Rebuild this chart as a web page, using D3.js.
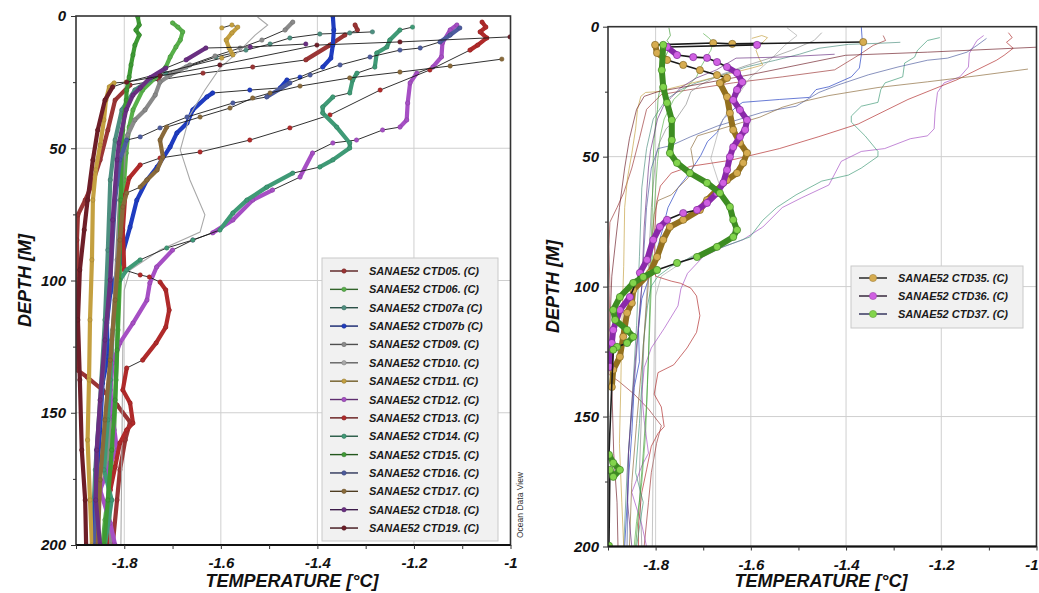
<!DOCTYPE html>
<html>
<head>
<meta charset="utf-8">
<script src="https://cdn.jsdelivr.net/npm/d3@7"></script>
<style>
  body { margin: 0; background: #fff; }
  svg text { font-family: "Liberation Sans", Arial, Helvetica, sans-serif; }
</style>
</head>
<body>
<svg id="chart" width="1039" height="593"></svg>
<script>
// ---- Station names and colours -------------------------------------------
const leftStations = ["CTD05.", "CTD06.", "CTD07a", "CTD07b", "CTD09.", "CTD10.", "CTD11.",
  "CTD12.", "CTD13.", "CTD14.", "CTD15.", "CTD16.", "CTD17.", "CTD18.", "CTD19."];
const leftColors = ["#9b3535", "#58b04a", "#4d8f80", "#1f3cc0", "#8a8a8a", "#a9a9a9", "#c4a040",
  "#a64fc4", "#b02a2a", "#3f9a76", "#3e9a34", "#4d5c9e", "#8a6a3a", "#6a2f82", "#6e1e28"];
const thinStations = ["CTD10."];

const rightStations = ["CTD35.", "CTD36.", "CTD37."];
const rightFill = ["#d6ac50", "#d060e2", "#82d44c"];
const rightStroke = ["#93701e", "#8a28aa", "#3d8d22"];

// ---- Profiles: [temperature °C, depth m] ---------------------------------
const ctd05 = [[-1.322,3.4],[-1.317,5.3],[-1.343,7.2],[-1.374,11.0],[-1.424,16.6],[-1.534,19.3],
  [-1.637,21.6],[-1.728,24.2],[-1.788,26.1],[-1.819,31.8],[-1.834,43.1],[-1.850,54.4],[-1.867,63.9],
  [-1.881,69.6],[-1.896,75.2],[-1.898,84.7],[-1.896,99.8],[-1.898,118.7],[-1.898,133.8],[-1.877,136.5],
  [-1.845,141.4],[-1.815,147.1],[-1.788,153.5],[-1.798,160.3],[-1.809,171.6],[-1.815,183.0],[-1.824,200]];
const ctd06 = [[-1.700,2.6],[-1.689,4.2],[-1.679,6.0],[-1.684,9.1],[-1.693,11.7],[-1.705,15.5],
  [-1.714,19.3],[-1.734,23.1],[-1.762,28.0],[-1.782,35.5],[-1.790,42.0],[-1.796,51.8],[-1.800,62.0],
  [-1.805,77.1],[-1.809,99.8],[-1.813,118.7],[-1.817,137.6],[-1.821,156.5],[-1.829,175.4],[-1.840,190.5],[-1.845,200]];
const ctd07a = [[-1.286,6.0],[-1.333,6.4],[-1.395,6.8],[-1.457,8.3],[-1.498,10.6],[-1.548,12.9],
  [-1.610,15.5],[-1.672,19.3],[-1.714,21.6],[-1.747,24.2],[-1.778,28.0],[-1.805,35.5],[-1.819,46.9],
  [-1.829,62.0],[-1.834,88.5],[-1.840,114.9],[-1.850,145.2],[-1.860,171.6],[-1.867,200]];
const ctd07b = [[-1.368,0],[-1.366,5.3],[-1.368,11.0],[-1.372,15.9],[-1.389,19.3],[-1.436,23.1],
  [-1.463,24.2],[-1.477,27.2],[-1.540,28.0],[-1.617,29.1],[-1.629,30.6],[-1.658,35.5],[-1.670,40.5],
  [-1.691,44.2],[-1.705,49.5],[-1.732,57.1],[-1.753,62.0],[-1.774,69.6],[-1.788,79.8],[-1.803,89.6],
  [-1.815,97.2],[-1.829,104.7],[-1.836,116.1],[-1.834,128.9],[-1.845,138.8],[-1.850,156.5],[-1.857,174.3],[-1.865,200]];
const ctd09 = [[-1.451,2.3],[-1.467,5.3],[-1.515,9.1],[-1.560,12.1],[-1.612,15.1],[-1.664,18.5],
  [-1.705,22.3],[-1.726,25.0],[-1.736,29.9],[-1.757,35.5],[-1.778,39.3],[-1.793,45.0],[-1.800,50.7],
  [-1.809,69.6],[-1.815,92.2],[-1.824,118.7],[-1.829,145.2],[-1.834,171.6],[-1.829,200]];
const ctd10 = [[-1.524,0.4],[-1.503,3.4],[-1.529,7.2],[-1.560,12.9],[-1.602,19.7],[-1.633,28.0],
  [-1.664,37.4],[-1.684,50.7],[-1.664,62.0],[-1.633,75.2],[-1.643,81.7],[-1.726,88.5],[-1.788,96.0],
  [-1.800,103.6],[-1.803,126.3],[-1.805,164.1],[-1.807,200]];
const ctd11 = [[-1.598,4.5],[-1.577,3.4],[-1.565,4.2],[-1.577,6.4],[-1.589,9.1],[-1.583,12.1],
  [-1.575,14.7],[-1.598,15.9],[-1.796,25.0],[-1.821,25.3],[-1.831,26.8],[-1.838,31.8],[-1.842,39.3],
  [-1.850,48.8],[-1.859,58.2],[-1.865,69.6],[-1.867,92.2],[-1.871,114.9],[-1.873,137.6],[-1.876,160.3],
  [-1.871,183.0],[-1.867,200]];
const ctd12 = [[-1.111,3.4],[-1.125,5.3],[-1.141,10.2],[-1.143,15.5],[-1.161,19.3],[-1.194,21.6],
  [-1.208,25.3],[-1.213,32.9],[-1.215,39.3],[-1.229,42.0],[-1.265,43.1],[-1.319,46.9],[-1.368,48.0],
  [-1.410,51.8],[-1.436,60.9],[-1.493,65.8],[-1.534,69.6],[-1.575,77.1],[-1.617,82.0],[-1.658,84.7],
  [-1.700,88.5],[-1.733,94.9],[-1.747,100.9],[-1.753,107.4],[-1.782,116.1],[-1.809,123.6],[-1.824,131.2],
  [-1.829,141.4],[-1.824,151.6],[-1.815,164.1],[-1.829,169.0],[-1.850,179.2],[-1.829,191.7],[-1.819,200]];
const ctd13 = [[-1.059,2.3],[-1.051,4.2],[-1.063,6.0],[-1.049,8.3],[-1.068,11.0],[-1.084,12.9],
  [-1.167,20.4],[-1.270,28.0],[-1.374,37.4],[-1.457,42.3],[-1.540,46.9],[-1.643,51.4],[-1.726,53.7],
  [-1.767,56.3],[-1.790,61.3],[-1.798,67.7],[-1.803,80.9],[-1.800,96.0],[-1.767,97.9],[-1.748,98.7],
  [-1.726,100.6],[-1.714,103.6],[-1.707,111.2],[-1.714,117.6],[-1.734,123.6],[-1.762,130.1],[-1.795,133.1],
  [-1.803,141.4],[-1.788,146.3],[-1.782,153.9],[-1.795,156.5],[-1.809,161.4],[-1.819,170.5],[-1.829,179.2],
  [-1.836,191.7],[-1.836,200]];
const ctd14 = [[-1.203,4.2],[-1.229,5.3],[-1.250,9.1],[-1.256,11.7],[-1.277,14.0],[-1.281,19.3],
  [-1.318,21.6],[-1.327,24.2],[-1.333,29.1],[-1.368,30.6],[-1.389,34.4],[-1.389,36.7],[-1.360,42.0],
  [-1.333,48.0],[-1.333,49.9],[-1.368,54.4],[-1.395,57.1],[-1.451,59.4],[-1.505,64.7],[-1.546,69.6],
  [-1.575,74.5],[-1.602,80.9],[-1.658,84.7],[-1.712,87.7],[-1.767,92.2],[-1.795,96.0],[-1.809,99.8],
  [-1.817,107.4],[-1.826,122.5],[-1.829,137.6],[-1.834,152.7],[-1.842,171.6],[-1.826,183.0],[-1.840,200]];
const ctd15 = [[-1.772,0.4],[-1.769,3.4],[-1.776,5.3],[-1.769,7.2],[-1.778,11.0],[-1.782,14.7],
  [-1.786,18.5],[-1.790,23.1],[-1.795,28.0],[-1.796,31.8],[-1.800,37.4],[-1.803,43.1],[-1.805,50.7],
  [-1.807,69.6],[-1.811,99.8],[-1.815,126.3],[-1.819,145.2],[-1.826,164.1],[-1.834,183.0],[-1.842,200]];
const ctd16 = [[-1.105,4.5],[-1.125,7.2],[-1.146,9.8],[-1.187,12.1],[-1.229,12.9],[-1.291,15.5],
  [-1.353,18.5],[-1.415,22.3],[-1.457,25.3],[-1.505,30.6],[-1.575,32.9],[-1.670,38.2],[-1.726,42.3],
  [-1.767,45.7],[-1.795,46.9],[-1.809,54.4],[-1.819,69.6],[-1.829,99.8],[-1.845,137.6],[-1.857,164.1],[-1.860,200]];
const ctd17 = [[-1.018,16.3],[-1.125,18.9],[-1.229,21.2],[-1.333,23.4],[-1.436,26.5],[-1.498,29.1],
  [-1.534,31.0],[-1.581,34.8],[-1.643,38.2],[-1.712,42.0],[-1.726,46.9],[-1.720,53.3],[-1.732,58.2],
  [-1.753,62.0],[-1.767,64.7],[-1.795,66.9],[-1.803,72.2],[-1.809,84.7],[-1.819,107.4],[-1.829,130.1],
  [-1.840,152.7],[-1.850,175.4],[-1.855,200]];
const ctd18 = [[-1.424,10.6],[-1.539,11.7],[-1.631,12.1],[-1.672,16.6],[-1.714,19.7],[-1.747,23.4],
  [-1.767,27.2],[-1.782,29.9],[-1.796,35.5],[-1.811,48.0],[-1.815,54.4],[-1.824,77.1],[-1.829,99.8],
  [-1.840,122.5],[-1.850,145.2],[-1.857,164.1],[-1.859,183.0],[-1.850,200]];
const ctd19 = [[-1.001,7.9],[-1.229,9.8],[-1.401,11.0],[-1.602,18.5],[-1.726,22.7],[-1.795,25.0],
  [-1.824,26.8],[-1.840,31.8],[-1.855,43.1],[-1.865,54.4],[-1.876,69.6],[-1.883,80.9],[-1.892,96.0],
  [-1.896,114.9],[-1.892,137.6],[-1.888,164.1],[-1.881,183.0],[-1.879,200]];
const leftProfiles = [ctd05, ctd06, ctd07a, ctd07b, ctd09, ctd10, ctd11, ctd12, ctd13, ctd14,
  ctd15, ctd16, ctd17, ctd18, ctd19];

const ctd35 = [[-1.364,5.9],[-1.639,6.6],[-1.679,6.3],[-1.801,7.0],[-1.797,10.1],[-1.776,12.8],
  [-1.742,14.7],[-1.707,16.7],[-1.671,18.6],[-1.650,19.7],[-1.665,21.7],[-1.650,27.0],[-1.644,33.2],
  [-1.637,39.7],[-1.623,44.7],[-1.608,48.6],[-1.616,52.4],[-1.629,56.3],[-1.650,59.0],[-1.671,62.8],
  [-1.692,66.7],[-1.707,70.5],[-1.742,74.3],[-1.770,77.0],[-1.784,82.0],[-1.797,88.6],[-1.812,94.7],
  [-1.847,101.3],[-1.850,106.3],[-1.860,110.1],[-1.868,119.3],[-1.875,127.0],[-1.889,132.0],[-1.892,138.6]];
const ctd36 = [[-1.587,7.0],[-1.776,7.8],[-1.755,10.9],[-1.721,11.7],[-1.692,12.0],[-1.671,13.6],
  [-1.650,15.5],[-1.629,17.8],[-1.618,21.3],[-1.629,24.3],[-1.637,28.2],[-1.623,32.0],[-1.608,35.9],
  [-1.612,39.7],[-1.623,42.4],[-1.637,46.3],[-1.644,50.1],[-1.650,55.1],[-1.658,60.1],[-1.671,64.0],
  [-1.692,67.8],[-1.713,70.5],[-1.742,71.7],[-1.776,74.3],[-1.791,77.0],[-1.805,82.0],[-1.818,89.7],
  [-1.833,94.7],[-1.854,104.0],[-1.875,109.0],[-1.889,116.7],[-1.892,121.7],[-1.896,130.9]];
const ctd37 = [[-1.784,7.0],[-1.787,16.7],[-1.784,23.2],[-1.776,29.3],[-1.766,35.9],[-1.766,43.6],
  [-1.770,48.6],[-1.755,52.4],[-1.728,56.3],[-1.692,60.1],[-1.665,64.0],[-1.644,69.3],[-1.637,74.3],
  [-1.629,78.2],[-1.637,80.9],[-1.671,84.7],[-1.713,88.6],[-1.755,90.9],[-1.797,93.6],[-1.826,96.3],
  [-1.847,98.6],[-1.875,104.0],[-1.889,109.0],[-1.885,112.8],[-1.860,116.7],[-1.847,119.3],[-1.860,121.7],
  [-1.881,123.2],[-1.889,124.3],[-1.898,164.7],[-1.889,167.8],[-1.875,170.5],[-1.889,173.2],
  [-1.896,170.5],[-1.898,199.7]];
const rightProfiles = [ctd35, ctd36, ctd37];

// ---- Axes ------------------------------------------------------------------
const tempDomain = [-1.9, -1];
const depthDomain = [0, 200];
const xTicks = [-1.8, -1.6, -1.4, -1.2, -1];
const xMinorTicks = [-1.9, -1.8, -1.7, -1.6, -1.5, -1.4, -1.3, -1.2, -1.1, -1.0];
const yTicks = [0, 50, 100, 150, 200];
const yMinorTicks = [25, 75, 125, 175];
const xGrid = [-1.8, -1.6, -1.4, -1.2];
const yGrid = [50, 100, 150];

const svg = d3.select("#chart");
const defs = svg.append("defs");

function makePanel(o) {
  const x = d3.scaleLinear().domain(tempDomain).range([o.x0, o.x1]);
  const y = d3.scaleLinear().domain(depthDomain).range([o.y0, o.y1]);
  const g = svg.append("g");

  defs.append("clipPath").attr("id", o.id)
    .append("rect").attr("x", o.x0).attr("y", o.y0)
    .attr("width", o.x1 - o.x0).attr("height", o.y1 - o.y0);

  g.append("g").selectAll("line").data(xGrid).join("line")
    .attr("x1", d => x(d)).attr("x2", d => x(d)).attr("y1", o.y0).attr("y2", o.y1)
    .attr("stroke", "#cfcfcf").attr("stroke-width", 1);
  g.append("g").selectAll("line").data(yGrid).join("line")
    .attr("y1", d => y(d)).attr("y2", d => y(d)).attr("x1", o.x0).attr("x2", o.x1)
    .attr("stroke", "#cfcfcf").attr("stroke-width", 1);

  const plot = g.append("g").attr("clip-path", `url(#${o.id})`);
  const top = svg.append("g");

  // frame
  top.append("rect").attr("x", o.x0).attr("y", o.y0)
    .attr("width", o.x1 - o.x0).attr("height", o.y1 - o.y0)
    .attr("fill", "none").attr("stroke", "#333").attr("stroke-width", 1.6);
  top.append("line").attr("x1", o.x0).attr("x2", o.x1).attr("y1", o.y1).attr("y2", o.y1)
    .attr("stroke", "#111").attr("stroke-width", 2);

  const styleTicks = s => { s.select(".domain").remove(); s.selectAll("line").attr("stroke", "#333"); };
  const styleLabels = s => s.selectAll("text")
    .attr("font-size", 15).attr("font-weight", "bold").attr("font-style", "italic").attr("fill", "#111");

  top.append("g").attr("transform", `translate(0,${o.y1})`)
    .call(d3.axisBottom(x).tickValues(xMinorTicks).tickSize(4).tickFormat(""))
    .call(styleTicks);
  const xa = top.append("g").attr("transform", `translate(0,${o.y1})`)
    .call(d3.axisBottom(x).tickValues(xTicks).tickSize(0).tickPadding(12.5).tickFormat(d => String(d)))
    .call(styleTicks).call(styleLabels);
  if (o.lastLabelEnd) {
    // the end label sits on the page edge
    xa.selectAll("text").filter(d => d === -1).attr("text-anchor", "end").attr("x", o.lastLabelEnd - x(-1));
  }
  top.append("g").attr("transform", `translate(${o.x0},0)`)
    .call(d3.axisLeft(y).tickValues(yMinorTicks).tickSize(3).tickFormat(""))
    .call(styleTicks);
  top.append("g").attr("transform", `translate(${o.x0},0)`)
    .call(d3.axisLeft(y).tickValues(yTicks).tickSize(5).tickPadding(o.yPad).tickFormat(d => String(d)))
    .call(styleTicks).call(styleLabels);

  // axis titles
  top.append("text").attr("x", o.titleX).attr("y", 587).attr("text-anchor", "middle")
    .attr("font-size", 18).attr("font-weight", "bold").attr("font-style", "italic").attr("fill", "#111")
    .text("TEMPERATURE [°C]");
  top.append("text").attr("transform", `translate(${o.depthX},${(o.y0 + o.y1) / 2}) rotate(-90)`)
    .attr("text-anchor", "middle")
    .attr("font-size", 18).attr("font-weight", "bold").attr("font-style", "italic").attr("fill", "#111")
    .text("DEPTH [M]");

  return { x, y, plot, top };
}

const L = makePanel({ id: "clipL", x0: 76, x1: 510.5, y0: 16, y1: 545, yPad: 5, titleX: 292, depthX: 31 });
const R = makePanel({ id: "clipR", x0: 608, x1: 1036.5, y0: 26.7, y1: 546.5, yPad: 4, titleX: 821, depthX: 559,
  lastLabelEnd: 1038 });

// ---- Profile drawing ---------------------------------------------------------
function drawProfile(P, data, color, opt) {
  const line = d3.line().x(d => P.x(d[0])).y(d => P.y(d[1]));
  const g = P.plot.append("g");
  // densely sampled stretches merge into a solid coloured band
  const dense = d3.pairs(data).filter(([a, b]) => {
    const dx = Math.abs(P.x(a[0]) - P.x(b[0])), dy = Math.abs(P.y(a[1]) - P.y(b[1]));
    return dx <= 2 * dy && Math.hypot(dx, dy) < opt.maxDense;
  });
  g.append("path").datum(data).attr("d", line).attr("fill", "none")
    .attr("stroke", "#1a1a1a").attr("stroke-width", opt.thin).attr("stroke-linejoin", "round");
  g.selectAll("line").data(dense).join("line")
    .attr("x1", d => P.x(d[0][0])).attr("y1", d => P.y(d[0][1]))
    .attr("x2", d => P.x(d[1][0])).attr("y2", d => P.y(d[1][1]))
    .attr("stroke", opt.band).attr("stroke-width", opt.bandWidth).attr("stroke-linecap", "round");
  g.selectAll("circle").data(data).join("circle")
    .attr("cx", d => P.x(d[0])).attr("cy", d => P.y(d[1])).attr("r", opt.r)
    .attr("fill", color).attr("stroke", d3.color(opt.band).darker(0.6)).attr("stroke-width", opt.ring);
}

// left panel: all early stations
leftProfiles.forEach((data, i) => {
  const c = leftColors[i];
  if (thinStations.includes(leftStations[i])) {
    L.plot.append("path").datum(data)
      .attr("d", d3.line().x(d => L.x(d[0])).y(d => L.y(d[1])))
      .attr("fill", "none").attr("stroke", c).attr("stroke-width", 1.1);
    return;
  }
  drawProfile(L, data, c, { thin: 0.9, band: c, bandWidth: 4.2, r: 2.2, ring: 0.5, maxDense: Infinity });
});

// right panel: early stations as faint background
leftProfiles.forEach((data, i) => {
  R.plot.append("path").datum(data)
    .attr("d", d3.line().x(d => R.x(d[0])).y(d => R.y(d[1])))
    .attr("fill", "none").attr("stroke", leftColors[i]).attr("stroke-opacity", 0.75).attr("stroke-width", 0.9);
});
// right panel: highlighted late stations
rightProfiles.forEach((data, i) => {
  drawProfile(R, data, rightFill[i], { thin: 1.6, band: rightStroke[i], bandWidth: 6, r: 3.6, ring: 0.6, maxDense: 26 });
});

// ---- Legends -----------------------------------------------------------------
function legend(box, names, fills, lines, r) {
  const g = svg.append("g");
  g.append("rect").attr("x", box.x).attr("y", box.y).attr("width", box.w).attr("height", box.h)
    .attr("fill", "#f1f1f1").attr("stroke", "#c9c9c9").attr("stroke-width", 1);
  const row = g.selectAll("g.row").data(names).join("g").attr("class", "row")
    .attr("transform", (d, i) => `translate(0,${box.first + i * box.step})`);
  row.append("line").attr("x1", box.x + 8).attr("x2", box.x + 36).attr("y1", 0).attr("y2", 0)
    .attr("stroke", (d, i) => lines[i]).attr("stroke-width", 1.4);
  row.append("circle").attr("cx", box.x + 22).attr("cy", 0).attr("r", r)
    .attr("fill", (d, i) => fills[i]).attr("stroke", (d, i) => d3.color(fills[i]).darker(0.8)).attr("stroke-width", 0.6);
  row.append("text").attr("x", box.x + 47).attr("y", 4)
    .attr("font-size", 11).attr("font-weight", "bold").attr("font-style", "italic").attr("fill", "#1a1a1a")
    .text(d => `SANAE52 ${d} (C)`);
}
legend({ x: 322, y: 258, w: 176, h: 283, first: 271, step: 18.36 }, leftStations, leftColors,
  leftColors.map(c => d3.color(c).darker(1.6).formatHex()), 2.2);
legend({ x: 851, y: 266, w: 172, h: 62, first: 278, step: 18 }, rightStations, rightFill,
  ["#1a1a1a", "#2a1a30", "#2a2a55"], 3.6);

// software credit
svg.append("text").attr("transform", "translate(523,505) rotate(-90)").attr("text-anchor", "middle")
  .attr("font-size", 8.5).attr("fill", "#333").text("Ocean Data View");
</script>
</body>
</html>
